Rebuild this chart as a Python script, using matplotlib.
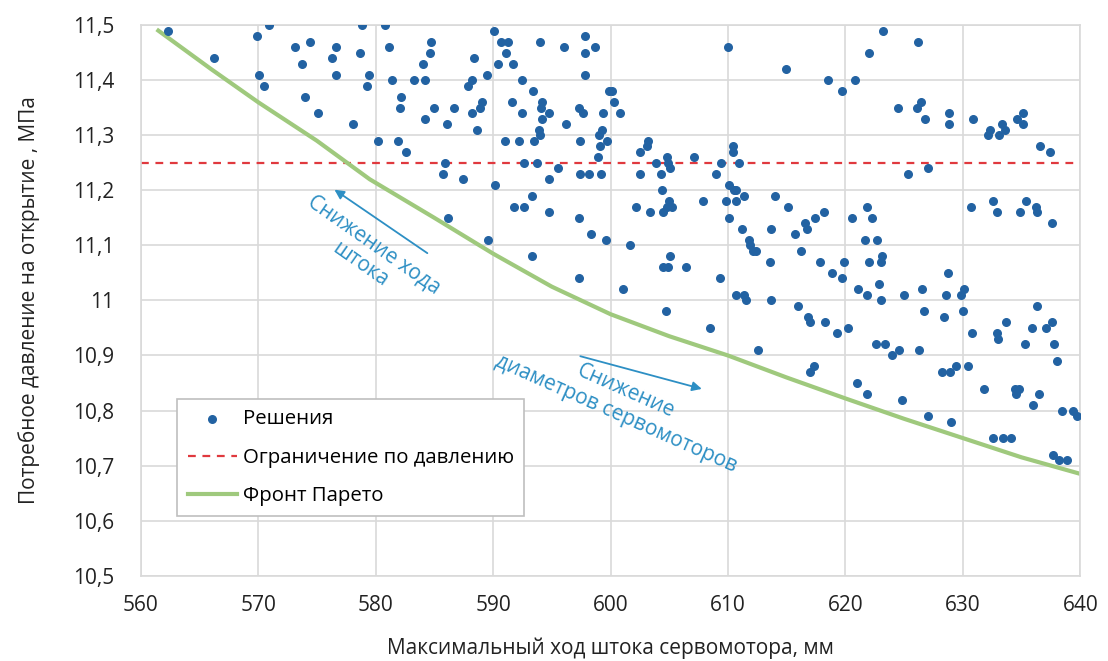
import matplotlib.pyplot as plt
from matplotlib.ticker import FuncFormatter, MultipleLocator

plt.rcParams['font.family'] = ['Open Sans', 'DejaVu Sans']

# решения (ход штока, мм / давление, МПа)
x = [562.3, 566.2, 570.9, 569.9, 573.1, 574.4, 576.6, 573.7, 576.3, 578.7, 578.8, 570.1, 570.5, 576.6, 579.4, 579.3, 574.0, 575.1, 578.1,
     580.8, 581.1, 584.7, 584.6, 584.0, 581.4, 583.3, 584.2, 582.2, 582.1, 585.0, 586.7, 584.2, 586.1, 588.4, 588.2, 587.9, 589.5, 589.1,
     588.9, 588.2, 588.6, 590.1, 590.7, 591.3, 591.1, 590.4, 591.7, 592.5, 593.4, 591.6, 594.2, 594.1, 592.5, 594.8, 594.2, 593.9, 594.0,
     594.0, 596.0, 597.8, 597.8, 598.7, 597.8, 596.2, 597.3, 597.7, 599.4, 599.9, 599.3, 599.0, 599.7, 599.1, 598.9, 599.2, 597.4, 598.2,
     597.4, 595.5, 594.8, 580.2, 581.9, 582.6, 585.9, 585.7, 587.4, 590.2, 591.0, 592.2, 593.5, 592.6, 593.7, 593.3, 591.8, 592.6, 594.8,
     610.0, 614.9, 618.5, 619.7, 600.1, 600.3, 600.8, 603.2, 603.1, 602.5, 602.5, 603.9, 604.8, 604.9, 605.1, 604.3, 604.4, 607.1, 609.0,
     609.4, 610.4, 610.4, 610.9, 610.1, 610.5, 610.7, 611.4, 614.0, 607.9, 609.8, 610.7, 615.1, 618.2, 602.2, 603.4, 605.0, 604.8, 605.2,
     623.2, 626.2, 622.0, 620.8, 624.5, 626.1, 626.4, 626.8, 628.8, 628.8, 630.9, 632.3, 632.1, 633.1, 633.3, 633.6, 634.6, 635.1, 635.1,
     636.6, 637.4, 625.3, 627.0, 621.8, 630.7, 632.6, 635.4, 636.2,
     620.6, 622.3, 621.7, 622.7, 619.9, 622.0, 623.1, 623.0, 619.7, 621.1, 621.8, 622.9, 623.0, 625.0, 626.5, 626.7, 628.7, 628.6, 629.8,
     630.1, 630.0, 628.4, 630.8, 620.2, 622.6, 623.4, 624.0, 624.6, 626.3, 621.0, 621.8, 624.8, 627.0, 629.0, 628.2, 628.9, 629.4, 630.4,
     631.8, 632.6, 633.4, 634.1, 632.9, 634.9, 636.3, 637.6, 636.3, 633.7, 632.9, 633.0, 635.9, 637.1, 637.6, 635.3, 637.8, 638.0, 634.4,
     634.8, 634.5, 636.5, 636.0, 638.4, 639.4, 639.7, 637.7, 638.2, 638.9,
     604.5, 610.1, 611.2, 613.7, 611.8, 611.9, 612.1, 612.4, 616.6, 616.7, 617.4, 615.7, 616.2, 617.8, 618.9, 613.6, 599.6, 601.7, 605.1,
     604.5, 604.9, 606.4, 609.3, 601.1, 610.7, 611.4, 611.5, 613.7, 616.0, 616.8, 617.0, 618.3, 619.3, 604.7, 608.5, 612.6, 617.3, 617.0,
     586.2, 597.3, 598.3, 589.6, 593.3, 597.3]
y = [11.49, 11.44, 11.50, 11.48, 11.46, 11.47, 11.46, 11.43, 11.44, 11.45, 11.50, 11.41, 11.39, 11.41, 11.41, 11.39, 11.37, 11.34, 11.32,
     11.50, 11.46, 11.47, 11.45, 11.43, 11.40, 11.40, 11.40, 11.37, 11.35, 11.35, 11.35, 11.33, 11.32, 11.44, 11.40, 11.39, 11.41, 11.36,
     11.35, 11.34, 11.31, 11.49, 11.47, 11.47, 11.45, 11.43, 11.43, 11.40, 11.38, 11.36, 11.36, 11.35, 11.34, 11.34, 11.33, 11.31, 11.30,
     11.47, 11.46, 11.48, 11.45, 11.46, 11.41, 11.32, 11.35, 11.34, 11.34, 11.38, 11.31, 11.30, 11.29, 11.28, 11.26, 11.23, 11.29, 11.23,
     11.23, 11.24, 11.22, 11.29, 11.29, 11.27, 11.25, 11.23, 11.22, 11.21, 11.29, 11.29, 11.29, 11.25, 11.25, 11.19, 11.17, 11.17, 11.16,
     11.46, 11.42, 11.40, 11.38, 11.38, 11.36, 11.34, 11.29, 11.28, 11.27, 11.23, 11.25, 11.26, 11.25, 11.24, 11.23, 11.20, 11.26, 11.23,
     11.25, 11.28, 11.27, 11.25, 11.21, 11.20, 11.20, 11.19, 11.19, 11.18, 11.18, 11.18, 11.17, 11.16, 11.17, 11.16, 11.18, 11.17, 11.17,
     11.49, 11.47, 11.45, 11.40, 11.35, 11.35, 11.36, 11.33, 11.34, 11.32, 11.33, 11.31, 11.30, 11.30, 11.32, 11.31, 11.33, 11.34, 11.32,
     11.28, 11.27, 11.23, 11.24, 11.17, 11.17, 11.18, 11.18, 11.17,
     11.15, 11.15, 11.11, 11.11, 11.07, 11.07, 11.08, 11.07, 11.04, 11.02, 11.01, 11.03, 11.00, 11.01, 11.02, 10.98, 11.05, 11.01, 11.01,
     11.02, 10.98, 10.97, 10.94, 10.95, 10.92, 10.92, 10.90, 10.91, 10.91, 10.85, 10.83, 10.82, 10.79, 10.78, 10.87, 10.87, 10.88, 10.88,
     10.84, 10.75, 10.75, 10.75, 11.16, 11.16, 11.16, 11.14, 10.99, 10.96, 10.94, 10.93, 10.95, 10.95, 10.96, 10.92, 10.92, 10.89, 10.84,
     10.84, 10.83, 10.83, 10.81, 10.80, 10.80, 10.79, 10.72, 10.71, 10.71,
     11.16, 11.15, 11.13, 11.13, 11.11, 11.10, 11.09, 11.09, 11.14, 11.13, 11.15, 11.12, 11.09, 11.07, 11.05, 11.07, 11.11, 11.10, 11.08,
     11.06, 11.06, 11.06, 11.04, 11.02, 11.01, 11.01, 11.00, 11.00, 10.99, 10.97, 10.96, 10.96, 10.94, 10.98, 10.95, 10.91, 10.88, 10.87,
     11.15, 11.15, 11.12, 11.11, 11.08, 11.04]

# фронт Парето
pareto_x = [561.5, 566, 570, 575, 579.5, 585, 590, 595, 600, 605, 610, 615, 620, 625, 630, 635, 640]
pareto_y = [11.49, 11.42, 11.36, 11.29, 11.22, 11.15, 11.085, 11.025, 10.975, 10.935, 10.90, 10.86, 10.822, 10.785, 10.75, 10.715, 10.685]

p_limit = 11.25

fig = plt.figure(figsize=(11.08, 6.61), dpi=100)
ax = fig.add_axes([0.127, 0.129, 0.848, 0.833])

ax.scatter(x, y, s=30, color='#2262a2', zorder=3, label='Решения')
ax.axhline(p_limit, color='#e0393e', linestyle=(0, (3.5, 3)), linewidth=1.6, zorder=2,
           label='Ограничение по давлению')
ax.plot(pareto_x, pareto_y, color='#9fc97d', linewidth=3, zorder=2, label='Фронт Парето')

ax.set_xlim(560, 640)
ax.set_ylim(10.5, 11.5)
ax.xaxis.set_major_locator(MultipleLocator(10))
ax.yaxis.set_major_locator(MultipleLocator(0.1))
ax.yaxis.set_major_formatter(FuncFormatter(lambda v, p: f"{round(v, 1):g}".replace('.', ',')))
ax.grid(True, color='#d9d9d9', linewidth=1.2, zorder=0)
ax.set_axisbelow(True)
for s in ax.spines.values():
    s.set_color('#d9d9d9')
    s.set_linewidth(1.2)
ax.tick_params(length=0, labelsize=15, colors='#222222')
ax.tick_params(axis='x', pad=14)
ax.tick_params(axis='y', pad=19)

ax.set_xlabel('Максимальный ход штока сервомотора, мм', fontsize=15, color='#222222', labelpad=15)
ax.set_ylabel('Потребное давление на открытие , МПа', fontsize=15, color='#222222', labelpad=24)

# аннотации
ac = '#2d8fc4'
ax.annotate('', xy=(576.3, 11.204), xytext=(584.6, 11.083),
            arrowprops=dict(arrowstyle='-|>', color=ac, lw=1.3, mutation_scale=14))
ax.text(579.25, 11.083, 'Снижение хода\nштока', color=ac, fontsize=15, rotation=-35,
        ha='center', va='center', multialignment='center', rotation_mode='anchor')
ax.annotate('', xy=(608.0, 10.838), xytext=(597.2, 10.90),
            arrowprops=dict(arrowstyle='-|>', color=ac, lw=1.3, mutation_scale=14))
ax.text(600.9, 10.815, 'Снижение\nдиаметров сервомоторов', color=ac, fontsize=15, rotation=-24,
        ha='center', va='center', multialignment='center', rotation_mode='anchor')

leg = ax.legend(loc='lower left', bbox_to_anchor=(0.039, 0.108), borderaxespad=0, fontsize=14.7,
                frameon=True, fancybox=False, edgecolor='#bfbfbf', framealpha=1, handlelength=2.4,
                handletextpad=0.3, borderpad=0.5, labelspacing=0.9)
leg.get_frame().set_linewidth(1.2)

fig.savefig('out.png', dpi=100)
